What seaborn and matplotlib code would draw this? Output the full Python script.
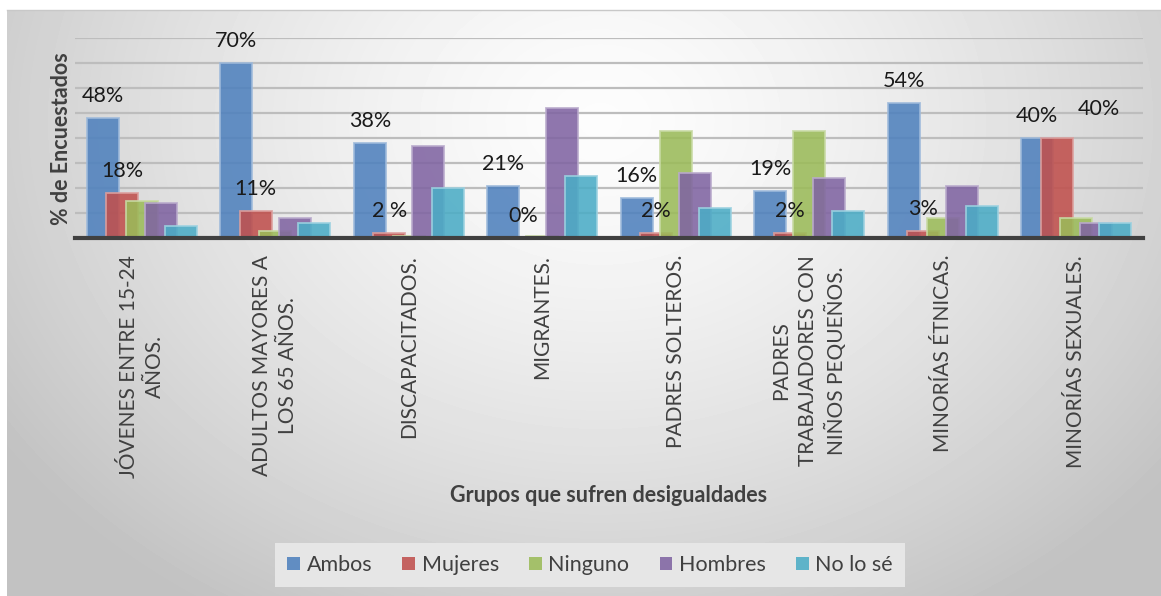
import numpy as np
import pandas as pd
import matplotlib
matplotlib.use("Agg")
import matplotlib.pyplot as plt
import matplotlib.colors as mcolors
from matplotlib.patches import Patch
import seaborn as sns

# ---- data (percent of respondents) ----
grupos = [
    "JÓVENES ENTRE 15-24\nAÑOS.",
    "ADULTOS MAYORES A\nLOS 65 AÑOS.",
    "DISCAPACITADOS.",
    "MIGRANTES.",
    "PADRES SOLTEROS.",
    "PADRES\nTRABAJADORES CON\nNIÑOS PEQUEÑOS.",
    "MINORÍAS ÉTNICAS.",
    "MINORÍAS SEXUALES.",
]
respuestas = ["Ambos", "Mujeres", "Ninguno", "Hombres", "No lo sé"]
ambos = [48, 70, 38, 21, 16, 19, 54, 40]
mujeres = [18, 11, 2, 0, 2, 2, 3, 40]
ninguno = [15, 3, 1, 1, 43, 43, 8, 8]
hombres = [14, 8, 37, 52, 26, 24, 21, 6]
no_lo_se = [5, 6, 20, 25, 12, 11, 13, 6]
series = [ambos, mujeres, ninguno, hombres, no_lo_se]

colores = ["#4F81BD", "#C0504D", "#9BBB59", "#8064A2", "#4BACC6"]

df = pd.DataFrame(
    [(g, r, v) for r, vals in zip(respuestas, series) for g, v in zip(grupos, vals)],
    columns=["grupo", "respuesta", "valor"],
)

W, H = 1161, 596
plt.rcParams["font.family"] = ["Lato", "DejaVu Sans"]
fig = plt.figure(figsize=(W / 100, H / 100), dpi=100)
fig.patch.set_facecolor("white")

# ---- gradient chart background ----
bg = fig.add_axes([0, 0, 1, 1], zorder=-5)
bg.set_xlim(0, W)
bg.set_ylim(H, 0)
bg.axis("off")
x0, y0 = 7, 10
xx, yy = np.meshgrid(np.arange(x0, W), np.arange(y0, H))
d = np.sqrt(((xx - 600) / 700.0) ** 2 + ((yy - 120) / 560.0) ** 2)
shade = 0.99 - 0.22 * np.clip(d, 0, 1.2) ** 1.4
shade = np.clip(shade, 0.76, 1.0)
bg.imshow(shade, cmap="gray", vmin=0, vmax=1, extent=(x0, W, H, y0),
          aspect="auto", interpolation="bilinear")
bg.plot([x0, W], [y0, y0], color="#c8c8c8", lw=1)

# ---- bars ----
ax_left, ax_top, ax_w, ax_h = 75, 38.3, 1068, 200
ax = fig.add_axes([ax_left / W, 1 - (ax_top + ax_h) / H, ax_w / W, ax_h / H])
ax.set_facecolor("none")

sns.barplot(data=df, x="grupo", y="valor", hue="respuesta", hue_order=respuestas,
            order=grupos, palette=colores, width=0.73, saturation=1, ax=ax,
            legend=False, alpha=0.88, errorbar=None, zorder=3)

bar_w = 0.24
for cont, col in zip(ax.containers, colores):
    edge = mcolors.to_rgb(col)
    edge = tuple(c + (1 - c) * 0.45 for c in edge)
    for p in cont:
        cx = p.get_x() + p.get_width() / 2
        p.set_width(bar_w)
        p.set_x(cx - bar_w / 2)
        p.set_edgecolor(edge)
        p.set_linewidth(1.3)

# value labels for "Ambos" and "Mujeres"
sep_mujeres = ["", "", " ", "", "", "", "", ""]
shift = {(1, 7): (42, 7)}
for si, cont in enumerate(ax.containers[:2]):
    vals = series[si]
    for gi, p in enumerate(cont):
        txt = f"{vals[gi]}{sep_mujeres[gi] if si == 1 else ''}%"
        dx, dy = shift.get((si, gi), (0, 0))
        ax.annotate(txt, xy=(p.get_x() + p.get_width() / 2, vals[gi]),
                    xytext=(dx * 0.72, (22 + dy) * 0.72), textcoords="offset points",
                    ha="center", va="center", fontsize=15.5, color="#1a1a1a",
                    annotation_clip=False, zorder=5)

ax.set_ylim(0, 80)
ax.set_xlim(-0.5, 7.5)
ax.set_yticks(np.arange(10, 81, 10))
ax.yaxis.grid(True, color="#bdbdbd", lw=1.6, zorder=0)
ax.set_axisbelow(True)
ax.tick_params(axis="y", length=0, labelleft=False)
ax.tick_params(axis="x", length=0, pad=12)
for s in ["top", "right", "left"]:
    ax.spines[s].set_visible(False)
ax.spines["bottom"].set_color("#404040")
ax.spines["bottom"].set_linewidth(3)
ax.spines["bottom"].set_zorder(6)

ax.set_xticks(range(len(grupos)))
ax.set_xticklabels(grupos, rotation=90, ha="center", va="top", multialignment="center",
                   fontsize=15, color="#404040", linespacing=1.4)

ax.set_ylabel("% de Encuestados", fontsize=15.5, fontweight="bold", color="#404040")
ax.yaxis.set_label_coords(-3 / ax_w, 0.5)
ax.set_xlabel("Grupos que sufren desigualdades", fontsize=15.5, fontweight="bold",
              color="#404040", va="top")
ax.xaxis.set_label_coords(0.5, -(485 - (ax_top + ax_h)) / ax_h)

# ---- legend ----
handles = [Patch(facecolor=c, alpha=0.88, edgecolor="none") for c in colores]
leg = fig.legend(handles, respuestas, loc="center", bbox_to_anchor=(590 / W, 1 - 565 / H),
                 ncol=5, frameon=True, fancybox=False, fontsize=15.5,
                 handlelength=0.6, handleheight=0.6, handletextpad=0.3,
                 columnspacing=1.4, borderpad=0.55, labelcolor="#404040")
leg.get_frame().set_facecolor("#e6e6e6")
leg.get_frame().set_edgecolor("none")
leg.get_frame().set_alpha(1)

fig.savefig("out.png", dpi=100, facecolor="white")
